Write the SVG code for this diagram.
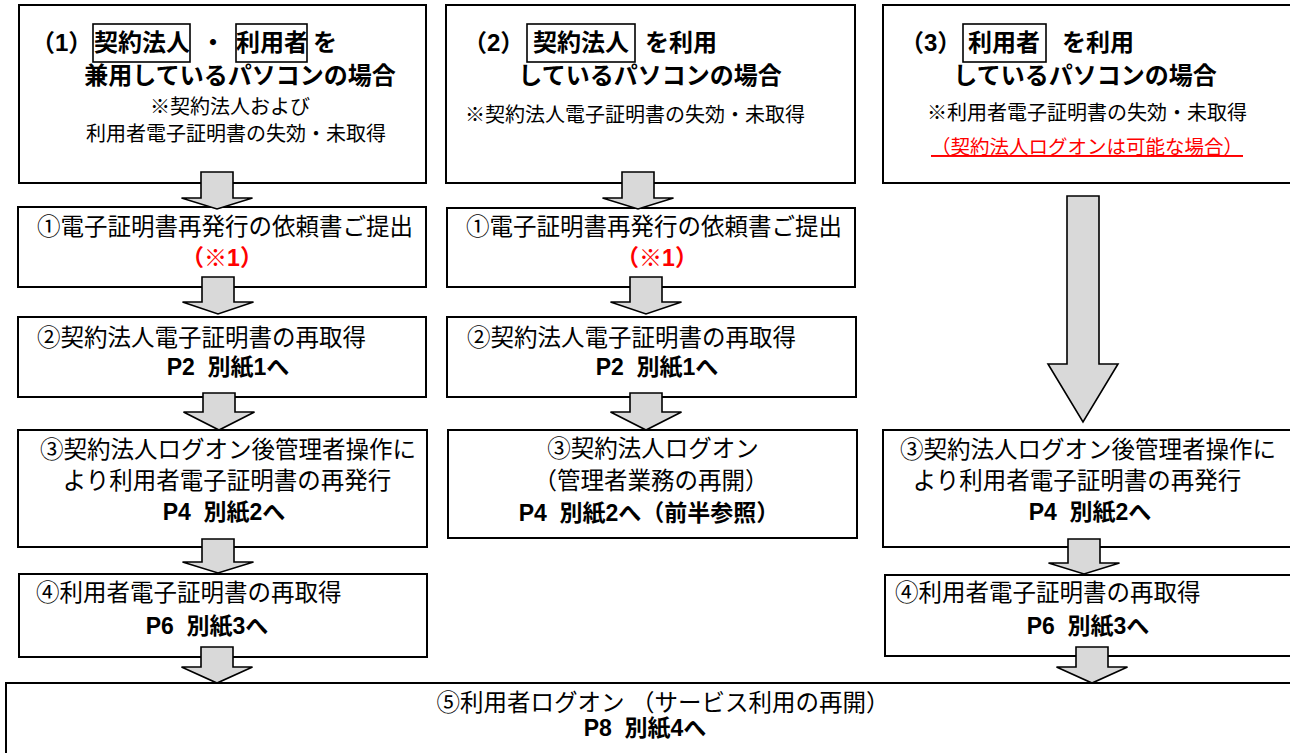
<svg xmlns="http://www.w3.org/2000/svg" width="1290" height="753" viewBox="0 0 1290 753">
<style>
.box{fill:#ffffff;stroke:#000000;stroke-width:2}
.tag{fill:none;stroke:#000000;stroke-width:1.6}
.arr{fill:#d9d9d9;stroke:#000000;stroke-width:1.6;stroke-linejoin:miter}
text{font-family:"Liberation Sans","Noto Sans CJK JP",sans-serif;fill:#000000}
.ttl{font-size:24px;font-weight:bold}
.sm{font-size:20px}
.st{font-size:23.5px}
.bd{font-size:23px;font-weight:bold}
.red{fill:#ff0000}
.c{text-anchor:middle}
</style>
<rect width="1290" height="753" fill="#ffffff"/>
<g id="case1">
<rect class="box" x="19" y="5" width="407" height="178"/>
<text class="ttl" x="31" y="51">（1）</text>
<rect class="tag" x="93" y="24" width="97" height="38"/>
<text class="ttl" x="94" y="51">契約法人</text>
<text class="ttl c" x="213" y="51">・</text>
<rect class="tag" x="236" y="24" width="71" height="38"/>
<text class="ttl" x="236" y="51">利用者</text>
<text class="ttl" x="313" y="51">を</text>
<text class="ttl c" x="240" y="84">兼用しているパソコンの場合</text>
<text class="sm c" x="230" y="114">※契約法人および</text>
<text class="sm c" x="236" y="141">利用者電子証明書の失効・未取得</text>
</g>
<g id="case2">
<rect class="box" x="446" y="5" width="409" height="178"/>
<text class="ttl" x="463" y="51">（2）</text>
<rect class="tag" x="527" y="24" width="108" height="38"/>
<text class="ttl" x="533" y="51">契約法人</text>
<text class="ttl" x="645" y="51">を利用</text>
<text class="ttl c" x="650" y="84">しているパソコンの場合</text>
<text class="sm" x="465" y="122">※契約法人電子証明書の失効・未取得</text>
</g>
<g id="case3">
<rect class="box" x="883" y="5" width="409" height="178"/>
<text class="ttl" x="900" y="51">（3）</text>
<rect class="tag" x="963" y="24" width="83" height="38"/>
<text class="ttl" x="968" y="51">利用者</text>
<text class="ttl" x="1062" y="51">を利用</text>
<text class="ttl c" x="1085" y="84">しているパソコンの場合</text>
<text class="sm c" x="1087" y="120">※利用者電子証明書の失効・未取得</text>
<text class="sm c red" x="1087" y="154" style="font-size:19.5px;text-decoration:underline">（契約法人ログオンは可能な場合）</text>
</g>
<g id="c1-step1">
<rect class="box" x="18" y="207" width="408" height="80"/>
<text class="st c" x="225" y="235">①電子証明書再発行の依頼書ご提出</text>
<text class="bd c red" x="222" y="266">（※1）</text>
</g>
<g id="c1-step2">
<rect class="box" x="18" y="317" width="408" height="80"/>
<text class="st" x="37" y="346">②契約法人電子証明書の再取得</text>
<text class="bd c" x="228" y="375" xml:space="preserve">P2  別紙1へ</text>
</g>
<g id="c1-step3">
<rect class="box" x="18" y="430" width="409" height="117"/>
<text class="st c" x="228" y="458">③契約法人ログオン後管理者操作に</text>
<text class="st c" x="227" y="489">より利用者電子証明書の再発行</text>
<text class="bd c" x="224" y="520" xml:space="preserve">P4  別紙2へ</text>
</g>
<g id="c1-step4">
<rect class="box" x="19" y="574" width="408" height="83"/>
<text class="st" x="36" y="601">④利用者電子証明書の再取得</text>
<text class="bd c" x="207" y="634" xml:space="preserve">P6  別紙3へ</text>
</g>
<g id="c2-step1">
<rect class="box" x="447" y="208" width="408" height="79"/>
<text class="st c" x="654" y="235">①電子証明書再発行の依頼書ご提出</text>
<text class="bd c red" x="657" y="266">（※1）</text>
</g>
<g id="c2-step2">
<rect class="box" x="447" y="317" width="409" height="80"/>
<text class="st" x="467" y="346">②契約法人電子証明書の再取得</text>
<text class="bd c" x="657" y="375" xml:space="preserve">P2  別紙1へ</text>
</g>
<g id="c2-step3">
<rect class="box" x="448" y="430" width="409" height="108"/>
<text class="st c" x="653" y="457">③契約法人ログオン</text>
<text class="st c" x="651" y="489">（管理者業務の再開）</text>
<text class="bd c" x="649" y="521" xml:space="preserve">P4  別紙2へ（前半参照）</text>
</g>
<g id="c3-step3">
<rect class="box" x="883" y="430" width="409" height="117"/>
<text class="st c" x="1088" y="458">③契約法人ログオン後管理者操作に</text>
<text class="st c" x="1077" y="489">より利用者電子証明書の再発行</text>
<text class="bd c" x="1090" y="520" xml:space="preserve">P4  別紙2へ</text>
</g>
<g id="c3-step4">
<rect class="box" x="885" y="575" width="407" height="81"/>
<text class="st" x="895" y="601">④利用者電子証明書の再取得</text>
<text class="bd c" x="1088" y="634" xml:space="preserve">P6  別紙3へ</text>
</g>
<g id="step5">
<rect class="box" x="6" y="683" width="1286" height="80"/>
<text class="st c" x="663" y="711">⑤利用者ログオン （サービス利用の再開）</text>
<text class="bd c" x="645" y="736" xml:space="preserve">P8  別紙4へ</text>
</g>
<g id="connectors">
<polygon class="arr" points="201,172 233,172 233,198 252.5,198 217,209 181.5,198 201,198"/>
<polygon class="arr" points="202,277 234,277 234,302 253.5,302 218,314 182.5,302 202,302"/>
<polygon class="arr" points="203,393 235,393 235,412 254.5,412 219,430 183.5,412 203,412"/>
<polygon class="arr" points="202,539 234,539 234,562 253.5,562 218,573 182.5,562 202,562"/>
<polygon class="arr" points="201,647 233,647 233,667 252.5,667 217,683 181.5,667 201,667"/>
<polygon class="arr" points="622,172 654,172 654,198 673.5,198 638,209 602.5,198 622,198"/>
<polygon class="arr" points="630,277 662,277 662,302 681.5,302 646,314 610.5,302 630,302"/>
<polygon class="arr" points="630,393 662,393 662,412 681.5,412 646,430 610.5,412 630,412"/>
<polygon class="arr" points="1067,196 1099,196 1099,364 1118,364 1083,422 1048,364 1067,364"/>
<polygon class="arr" points="1068,539 1100,539 1100,563 1119.5,563 1084,574 1048.5,563 1068,563"/>
<polygon class="arr" points="1076,647 1108,647 1108,667 1127.5,667 1092,683 1056.5,667 1076,667"/>
</g>
</svg>
